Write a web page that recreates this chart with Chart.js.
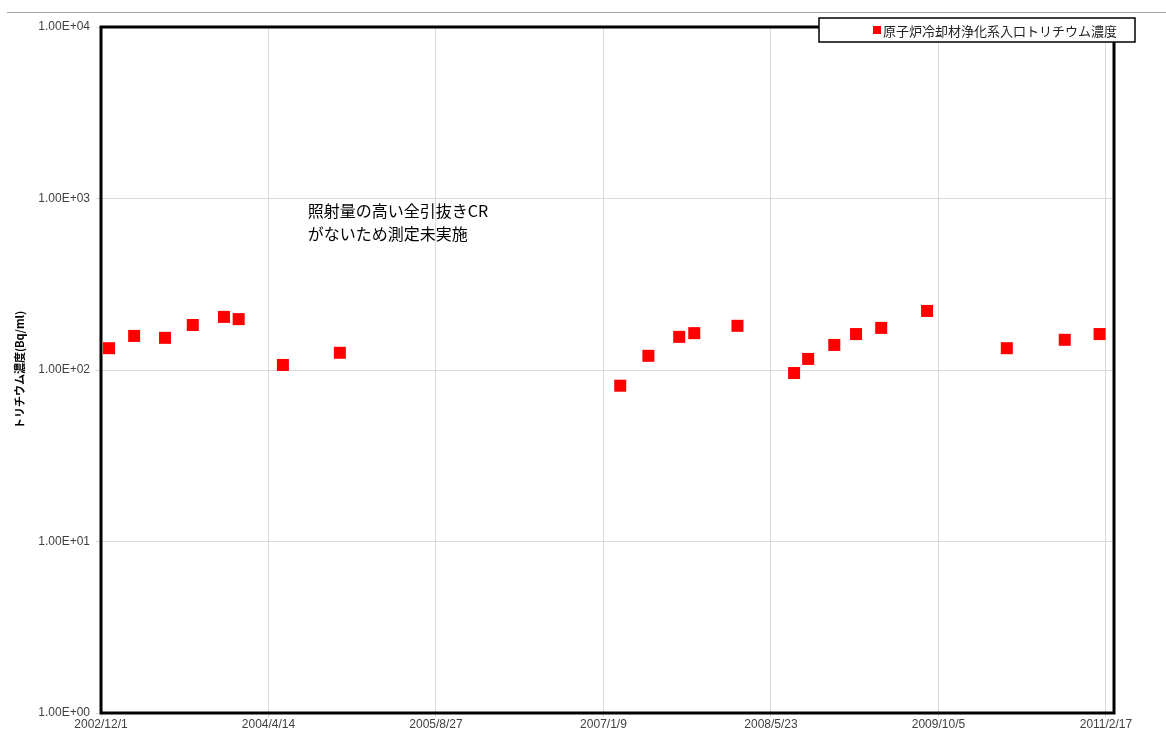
<!DOCTYPE html>
<html>
<head>
<meta charset="utf-8">
<script src="https://cdn.jsdelivr.net/npm/chart.js@4.4.1/dist/chart.umd.min.js"></script>
<style>
  html, body { margin: 0; padding: 0; background: #fff; }
</style>
</head>
<body>
<canvas id="chart" width="1166" height="729"></canvas>
<script>
// sample dates and tritium concentration (Bq/ml)
const sampleDates = [
  '2002/12/25', '2003/3/10', '2003/6/10', '2003/9/1', '2003/12/3', '2004/1/16',
  '2004/5/27', '2004/11/13',
  '2007/2/28', '2007/5/23', '2007/8/23', '2007/10/7', '2008/2/13',
  '2008/7/31', '2008/9/11', '2008/11/28', '2009/2/1', '2009/4/17', '2009/9/1',
  '2010/4/27', '2010/10/17', '2011/1/29'
];
const tritium = [
  134, 158, 154, 183, 204, 198,
  107, 126,
  81, 121, 156, 164, 181,
  96, 116, 140, 162, 176, 221,
  134, 150, 162
];
const yTicks = [1, 10, 100, 1000, 10000];
const axisStart = '2002/12/1';
const axisEnd = '2011/3/13';
const tickStepDays = 500;

const seriesLabel = '原子炉冷却材浄化系入口トリチウム濃度';
const yTitle = 'トリチウム濃度(Bq/ml)';
const noteLines = ['照射量の高い全引抜きCR', 'がないため測定未実施'];
const noteDate = '2004/8/9';
const noteValue = 850;

const FONT = '"Liberation Sans", "Noto Sans CJK JP", sans-serif';
const JP_FONT = '"Noto Sans CJK JP", "Liberation Sans", sans-serif';

function dayNum(s) {
  const [y, m, d] = s.split('/').map(Number);
  return Date.UTC(y, m - 1, d) / 86400000;
}
function fmtDate(n) {
  const d = new Date(Math.round(n) * 86400000);
  return d.getUTCFullYear() + '/' + (d.getUTCMonth() + 1) + '/' + d.getUTCDate();
}
function fmtExp(v) {
  const [m, e] = v.toExponential(2).split('e');
  const sign = e[0] === '-' ? '-' : '+';
  const digits = e.replace(/[+-]/, '').padStart(2, '0');
  return m + 'E' + sign + digits;
}

const startDay = dayNum(axisStart);
const endDay = dayNum(axisEnd);

const decorations = {
  id: 'decorations',
  beforeDraw(chart) {
    const ctx = chart.ctx;
    ctx.save();
    ctx.strokeStyle = '#a0a0a0';
    ctx.lineWidth = 1;
    ctx.beginPath();
    ctx.moveTo(7, 12.5);
    ctx.lineTo(chart.width, 12.5);
    ctx.stroke();
    ctx.restore();
  },
  afterDatasetsDraw(chart) {
    const { ctx, chartArea: a, scales } = chart;
    ctx.save();
    ctx.strokeStyle = '#000';
    ctx.lineWidth = 3;
    ctx.strokeRect(a.left, a.top, a.right - a.left, a.bottom - a.top);

    // note text
    ctx.fillStyle = '#000';
    ctx.font = '16px ' + JP_FONT;
    ctx.textBaseline = 'middle';
    ctx.textAlign = 'left';
    const nx = scales.x.getPixelForValue(dayNum(noteDate));
    const ny = scales.y.getPixelForValue(noteValue);
    noteLines.forEach((t, i) => ctx.fillText(t, nx, ny + i * 23));
    ctx.restore();
  },
  afterDraw(chart) {
    const ctx = chart.ctx;
    const ds = chart.data.datasets[0];
    const w = 316, h = 24;
    const right = chart.width - 31, top = 18;
    const left = right - w;
    ctx.save();
    ctx.fillStyle = '#fff';
    ctx.fillRect(left, top, w, h);
    ctx.strokeStyle = '#000';
    ctx.lineWidth = 1.5;
    ctx.strokeRect(left, top, w, h);
    ctx.font = '13px ' + JP_FONT;
    const tw = ctx.measureText(ds.label).width;
    const tx = right - 18 - tw;
    const cy = top + h / 2;
    ctx.fillStyle = ds.backgroundColor;
    ctx.fillRect(tx - 10, cy - 4, 8, 8);
    ctx.fillStyle = '#222';
    ctx.textBaseline = 'middle';
    ctx.fillText(ds.label, tx, cy + 1);
    ctx.restore();
  }
};

new Chart(document.getElementById('chart'), {
  type: 'scatter',
  data: {
    datasets: [{
      label: seriesLabel,
      data: sampleDates.map((d, i) => ({ x: dayNum(d), y: tritium[i] })),
      backgroundColor: '#ff0000',
      borderColor: '#ff0000',
      borderWidth: 0,
      pointStyle: 'rect',
      pointRadius: 8.5,
      pointHoverRadius: 8.5
    }]
  },
  options: {
    responsive: false,
    animation: false,
    layout: { padding: { top: 27, right: 52, left: 0, bottom: 0 } },
    plugins: {
      legend: { display: false },
      tooltip: { enabled: false }
    },
    scales: {
      x: {
        type: 'linear',
        min: startDay,
        max: endDay,
        afterBuildTicks: s => {
          const t = [];
          for (let v = startDay; v <= endDay; v += tickStepDays) t.push({ value: v });
          s.ticks = t;
        },
        afterFit: s => { s.height = 16; },
        border: { display: false },
        grid: { color: '#d9d9d9', tickLength: 4 },
        ticks: {
          callback: v => fmtDate(v),
          autoSkip: false,
          maxRotation: 0,
          padding: 0,
          color: '#404040',
          font: { family: FONT, size: 12 }
        }
      },
      y: {
        type: 'logarithmic',
        min: 1,
        max: 10000,
        afterBuildTicks: s => { s.ticks = yTicks.map(v => ({ value: v })); },
        afterFit: s => { s.width = 101; },
        border: { display: false },
        grid: { color: '#d9d9d9', tickLength: 5 },
        ticks: {
          callback: v => fmtExp(v),
          padding: 6,
          color: '#404040',
          font: { family: FONT, size: 12 }
        },
        title: {
          display: true,
          text: yTitle,
          color: '#000',
          font: { family: JP_FONT, size: 11, weight: 'bold' },
          padding: { top: 13, bottom: 0 }
        }
      }
    }
  },
  plugins: [decorations]
});
</script>
</body>
</html>
